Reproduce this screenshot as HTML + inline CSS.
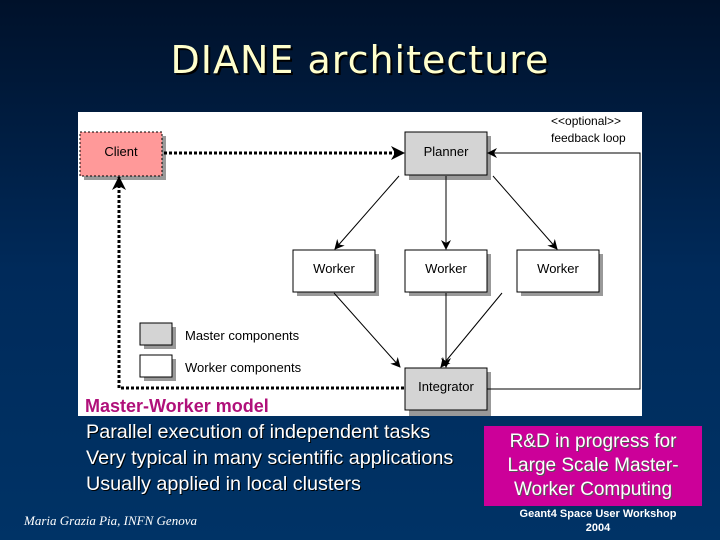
<!DOCTYPE html><html><head><style>
body{margin:0;width:720px;height:540px;overflow:hidden;background:linear-gradient(#00112a,#002a5a 50%,#003366);font-family:"Liberation Sans",sans-serif;position:relative}
.a{position:absolute}
</style></head><body>
<div class="a" style="left:0;top:38px;width:720px;text-align:center;font-family:'DejaVu Sans',sans-serif;font-size:38px;letter-spacing:1px;color:#ffffcc;text-shadow:2px 2px 0 #000">DIANE architecture</div>
<svg class="a" style="left:0;top:0" width="720" height="540">
<defs><marker id="m" markerWidth="10" markerHeight="10" refX="9" refY="5" orient="auto" markerUnits="userSpaceOnUse"><path d="M0,0L10,5L0,10L3,5z" fill="#000"/></marker>
<marker id="M" markerWidth="14" markerHeight="14" refX="13" refY="7" orient="auto" markerUnits="userSpaceOnUse"><path d="M0,0L14,7L0,14L4,7z" fill="#000"/></marker></defs>
<rect x="78" y="112" width="564" height="304" fill="#fff"/>
<g fill="#999"><rect x="84" y="136" width="82" height="44"/><rect x="409" y="136" width="82" height="44"/><rect x="297" y="254" width="82" height="42"/><rect x="409" y="254" width="82" height="42"/><rect x="521" y="254" width="82" height="42"/><rect x="409" y="372" width="82" height="44"/><rect x="144" y="327" width="32" height="22"/><rect x="144" y="359" width="32" height="22"/></g>
<rect x="80" y="132" width="82" height="44" fill="#ff9999" stroke="#000" stroke-dasharray="2,2"/>
<g stroke="#000" fill="#d4d4d4"><rect x="405" y="132" width="82" height="43"/><rect x="405" y="368" width="82" height="42"/><rect x="140" y="323" width="32" height="22"/></g>
<g stroke="#000" fill="#fff"><rect x="293" y="250" width="82" height="42"/><rect x="405" y="250" width="82" height="42"/><rect x="517" y="250" width="82" height="42"/><rect x="140" y="355" width="32" height="22"/></g>
<g stroke="#000" stroke-width="1" fill="none" marker-end="url(#m)">
<line x1="399" y1="176" x2="335" y2="249"/><line x1="446" y1="176" x2="446" y2="249"/><line x1="493" y1="176" x2="557" y2="249"/>
<line x1="334" y1="293" x2="400" y2="367"/><line x1="446" y1="293" x2="446" y2="367"/><line x1="502" y1="293" x2="441" y2="367"/>
<polyline points="487,389 640,389 640,153 488,153"/></g>
<g stroke="#000" stroke-width="3" stroke-dasharray="3,2" fill="none" marker-end="url(#M)">
<line x1="164" y1="153" x2="404" y2="153"/><polyline points="404,388 119,388 119,177"/></g>
<g font-size="13" text-anchor="middle" fill="#000"><text x="121" y="156">Client</text><text x="446" y="156">Planner</text><text x="334" y="273">Worker</text><text x="446" y="273">Worker</text><text x="558" y="273">Worker</text><text x="446" y="391">Integrator</text></g>
<g font-size="13" fill="#000"><text x="185" y="340">Master components</text><text x="185" y="372">Worker components</text><text x="551" y="125" font-size="12">&lt;&lt;optional&gt;&gt;</text><text x="551" y="142" font-size="12">feedback loop</text></g>
</svg>
<div class="a" style="left:85px;top:396px;font-size:18px;font-weight:bold;color:#b0107a">Master-Worker model</div>
<div class="a" style="left:86px;top:419px;font-size:19.8px;color:#fff;line-height:26px;text-shadow:1px 1px 0 #000">Parallel execution of independent tasks<br>Very typical in many scientific applications<br>Usually applied in local clusters</div>
<div class="a" style="left:484px;top:426px;width:218px;height:80px;background:#cc0099;color:#fff;font-size:19px;text-align:center;line-height:24px;padding-top:4px;box-sizing:border-box;text-shadow:1px 1px 0 #555">R&amp;D in progress for<br>Large Scale Master-<br>Worker Computing</div>
<div class="a" style="left:24px;top:513px;font-family:'Liberation Serif',serif;font-style:italic;font-size:13px;color:#fff">Maria Grazia Pia, INFN Genova</div>
<div class="a" style="left:498px;top:507px;width:200px;text-align:center;font-size:11px;font-weight:bold;color:#fff;line-height:14px">Geant4 Space User Workshop<br>2004</div>
</body></html>
